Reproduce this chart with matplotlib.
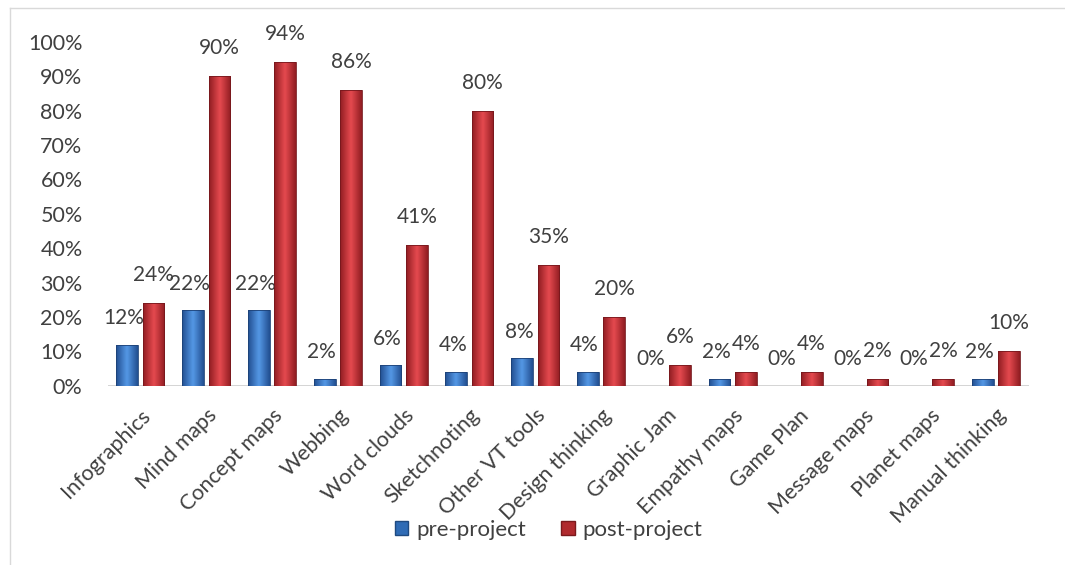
import matplotlib.pyplot as plt
import numpy as np
from matplotlib.patches import Rectangle
from matplotlib.lines import Line2D

categories = ['Infographics', 'Mind maps', 'Concept maps', 'Webbing',
              'Word clouds', 'Sketchnoting', 'Other VT tools',
              'Design thinking', 'Graphic Jam', 'Empathy maps', 'Game Plan',
              'Message maps', 'Planet maps', 'Manual thinking']
pre_project = [12, 22, 22, 2, 6, 4, 8, 4, 0, 2, 0, 0, 0, 2]
post_project = [24, 90, 94, 86, 41, 80, 35, 20, 6, 4, 4, 2, 2, 10]
series_names = ['pre-project', 'post-project']

plt.rcParams['font.family'] = ['Lato', 'DejaVu Sans']
TXT = '#404040'

fig = plt.figure(figsize=(10.65, 5.65), dpi=100)
ax = fig.add_axes([0.101, 0.317, 0.865, 0.609])

x = np.arange(len(categories))
width = 0.33
offs = 0.2

# horizontal shading to imitate the bevelled Excel bars
grad = np.concatenate([np.linspace(0.55, 1.0, 8), np.linspace(1.0, 0.55, 8)])


def shaded_bars(xs, vals, base, dark):
    base = np.array(base)
    dark = np.array(dark)
    for xi, v in zip(xs, vals):
        h = v / 100.0
        if h <= 0:
            continue
        img = np.zeros((1, len(grad), 3))
        for k, g in enumerate(grad):
            img[0, k] = dark + (base - dark) * (g - 0.55) / 0.45
        left = xi - width / 2
        im = ax.imshow(img, extent=[left, left + width, 0, h],
                       aspect='auto', zorder=3, interpolation='bilinear')
        rect = Rectangle((left, 0), width, h, facecolor='none',
                         edgecolor=dark * 0.8, linewidth=0.6, zorder=4)
        ax.add_patch(rect)
        im.set_clip_path(rect)


shaded_bars(x - offs, pre_project, (0.32, 0.58, 0.88), (0.14, 0.32, 0.58))
shaded_bars(x + offs, post_project, (0.88, 0.28, 0.30), (0.58, 0.12, 0.14))

for xi, v in zip(x - offs, pre_project):
    ax.annotate('%d%%' % v, (xi - 0.05, v / 100.0), xytext=(0, 12),
                textcoords='offset points', ha='center', va='bottom',
                fontsize=15, color=TXT)
for xi, v in zip(x + offs, post_project):
    ax.annotate('%d%%' % v, (xi, v / 100.0), xytext=(0, 13),
                textcoords='offset points', ha='center', va='bottom',
                fontsize=15, color=TXT)

ax.set_xlim(-0.5, len(categories) - 0.5)
ax.set_ylim(0, 1.0)
ax.set_yticks(np.arange(0, 1.01, 0.1))
ax.set_yticklabels(['%d%%' % v for v in range(0, 101, 10)],
                   fontsize=15.5, color=TXT)
ax.set_xticks(x)
ax.set_xticklabels(categories, rotation=45, ha='right',
                   rotation_mode='anchor', fontsize=15.5, color=TXT)
ax.tick_params(axis='y', length=0, pad=18)
ax.tick_params(axis='x', length=0, pad=14)
for s in ax.spines.values():
    s.set_visible(False)
ax.axhline(0, color='#d0d0d0', linewidth=2, zorder=2)

handles = [Rectangle((0, 0), 1, 1, facecolor='#2f6bb5', edgecolor='#1f4a80'),
           Rectangle((0, 0), 1, 1, facecolor='#b02a2e', edgecolor='#7a1a1d')]
fig.legend(handles, series_names, loc='center', ncol=2,
           bbox_to_anchor=(0.515, 0.062), frameon=False, fontsize=16,
           handlelength=0.6, handleheight=0.6, handletextpad=0.35,
           columnspacing=1.6, labelcolor=TXT)

# outer chart border (left and top edges visible)
fig.add_artist(Line2D([0.009, 0.009], [0.0, 0.985], color='#d9d9d9',
                      linewidth=1, transform=fig.transFigure))
fig.add_artist(Line2D([0.009, 1.0], [0.985, 0.985], color='#d9d9d9',
                      linewidth=1, transform=fig.transFigure))

fig.savefig('out.png', dpi=100)
